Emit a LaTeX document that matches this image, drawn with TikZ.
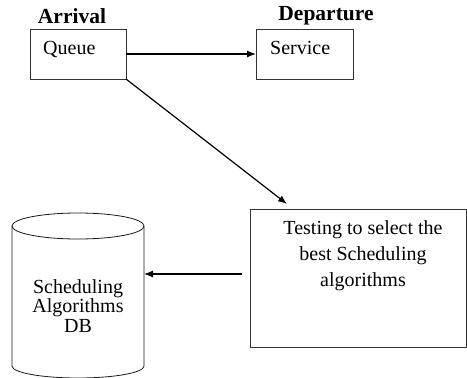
\documentclass[tikz,border=0pt]{standalone}
\usepackage{fontspec}
\setmainfont{Liberation Serif}
\usetikzlibrary{shapes.geometric, arrows.meta, positioning}
\tikzset{
  head_text/.style={font=\fontsize{21.5}{26}\selectfont\bfseries, inner sep=0pt},
  box_text/.style={font=\fontsize{20}{26}\selectfont, inner sep=0pt},
  db_text/.style={font=\fontsize{20}{19.5}\selectfont, inner sep=0pt, align=center},
  proc_box/.style={rectangle, draw=black!80, line width=0.8pt, inner sep=0pt, outer sep=0pt},
  db_line/.style={draw=black!90, line width=0.8pt},
  arrow/.style={-{Latex[length=9pt, width=7pt]}, line width=1.2pt, black}
}

\begin{document}
\begin{tikzpicture}[x=1pt, y=-1pt]
  \useasboundingbox (0,0) rectangle (467,378);

  % Headings
  \node (arrival) [head_text] at (72,16) {Arrival};
  \node (departure) [head_text] at (326,16) {Departure};

  % Queue and service
  \node (queue) [proc_box, minimum width=96pt, minimum height=50pt] at (78,54) {};
  \node (service) [proc_box, minimum width=97pt, minimum height=50pt] at (304.5,54) {};
  \node (queue_txt) [box_text, anchor=base west] at (43,54) {Queue};
  \node (service_txt) [box_text, anchor=base west] at (270,54) {Service};

  % Testing box
  \node (test) [proc_box, minimum width=216pt, minimum height=138pt] at (358,278) {};
  \node (test_txt) [box_text, align=center, anchor=north] at (363,220) {Testing to select the\\best Scheduling\\algorithms};

  % Database (cylinder drawn round the node)
  \node (db) [inner sep=0pt, outer sep=0pt, minimum width=132pt, minimum height=165pt] at (78,295.5) {};
  \draw [db_line] ([yshift=-13pt]db.north) ellipse [x radius=66pt, y radius=13pt];
  \draw [db_line] ([yshift=-13pt]db.north west) -- ([yshift=12pt]db.south west)
        arc [start angle=180, end angle=360, x radius=66pt, y radius=12pt]
        -- ([yshift=-13pt]db.north east);
  \node (db_txt) [db_text] at (78,306) {Scheduling\\Algorithms\\DB};

  % Connections
  \coordinate (test_in) at (287,204);
  \coordinate (test_out) at (242,274);
  \draw [arrow] (queue.east) -- (service.west);
  \draw [arrow] (queue.south east) -- (test_in);
  \draw [arrow] (test_out) -- (db.east |- test_out);
\end{tikzpicture}
\end{document}
